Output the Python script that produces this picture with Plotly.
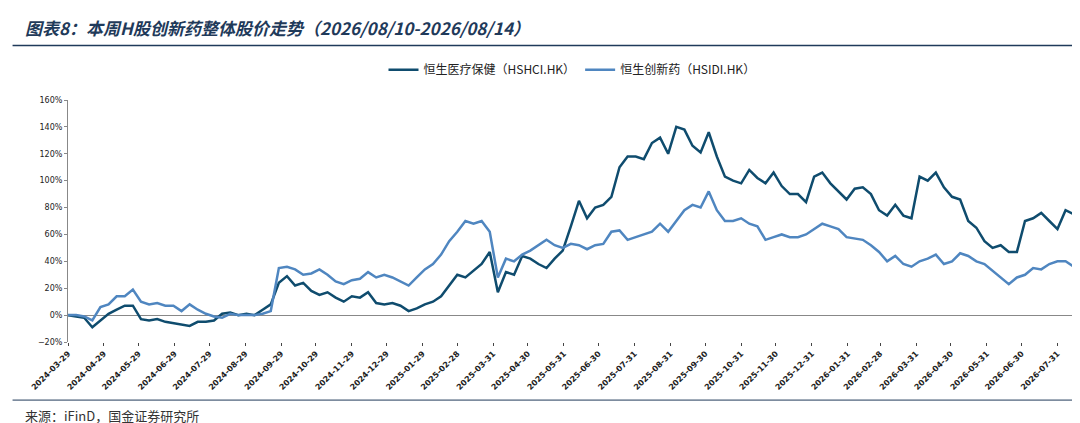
import plotly.graph_objects as go
import pandas as pd

dates = pd.date_range("2024-03-29", "2026-08-14", freq="W-FRI")

hshci = [0,
         -1, -2, -9, -4,
         1, 4, 7, 7, -3,
         -4, -3, -5, -6,
         -7, -8, -5, -5,
         -4, 1, 2, 0, 1,
         0, 4, 8, 24,
         29, 22, 24, 18,
         15, 17, 13, 10, 14,
         13, 17, 9, 8,
         9, 7, 3, 5, 8,
         10, 14, 22, 30,
         28, 33, 38, 47,
         17, 32, 30, 44,
         42, 38, 35, 42, 48,
         66, 85, 72, 80,
         82, 88, 110, 118,
         118, 116, 128, 132, 120,
         140, 138, 126, 121,
         136, 118, 103, 100, 98,
         108, 102, 98, 106,
         96, 90, 90, 84,
         103, 106, 98, 92, 86,
         94, 95, 90, 78,
         74, 82, 74, 72,
         103, 100, 106, 95,
         88, 86, 70, 65, 55,
         50, 52, 47, 47,
         70, 72, 76, 70, 64,
         78, 75]

hsidi = [0,
         0, -1, -4, 6,
         8, 14, 14, 19, 10,
         8, 9, 7, 7,
         3, 8, 4, 1,
         -1, -2, 1, 0, 0,
         0, 1, 3, 35,
         36, 34, 30, 31,
         34, 30, 25, 23, 26,
         27, 32, 28, 30,
         28, 25, 22, 28, 34,
         38, 45, 55, 62,
         70, 68, 70, 62,
         28, 42, 40, 45,
         48, 52, 56, 52, 50,
         53, 52, 49, 52,
         53, 62, 63, 56,
         58, 60, 62, 68, 62,
         70, 78, 82, 80,
         92, 78, 70, 70, 72,
         68, 66, 56, 58,
         60, 58, 58, 60,
         64, 68, 66, 64, 58,
         57, 56, 52, 47,
         40, 44, 38, 36,
         40, 42, 45, 38,
         40, 46, 44, 40, 38,
         33, 28, 23, 28,
         30, 35, 34, 38, 40,
         40, 36]

tick_dates = ["2024-03-29", "2024-04-29", "2024-05-29", "2024-06-29", "2024-07-29",
              "2024-08-29", "2024-09-29", "2024-10-29", "2024-11-29", "2024-12-29",
              "2025-01-29", "2025-02-28", "2025-03-31", "2025-04-30", "2025-05-31",
              "2025-06-30", "2025-07-31", "2025-08-31", "2025-09-30", "2025-10-31",
              "2025-11-30", "2025-12-31", "2026-01-31", "2026-02-28", "2026-03-31",
              "2026-04-30", "2026-05-31", "2026-06-30", "2026-07-31"]

fig = go.Figure()
fig.add_trace(go.Scatter(x=dates, y=[v / 100 for v in hshci], mode="lines",
                         name="恒生医疗保健（HSHCI.HK）",
                         line=dict(color="#0f4c6e", width=2.5)))
fig.add_trace(go.Scatter(x=dates, y=[v / 100 for v in hsidi], mode="lines",
                         name="恒生创新药（HSIDI.HK）",
                         line=dict(color="#4f86c0", width=2.5)))

fig.update_xaxes(tickvals=tick_dates, ticktext=["<b>%s</b>" % t for t in tick_dates], tickangle=-45,
                 range=["2024-03-29", "2026-08-16"],
                 tickfont=dict(size=8, color="#222", family="DejaVu Sans"),
                 showgrid=False, showline=False, ticks="outside", ticklen=3,
                 zeroline=False)
fig.update_yaxes(range=[-0.2, 1.6], dtick=0.2, tickformat=".0%",
                 tickfont=dict(size=8, color="#222", family="DejaVu Sans"),
                 showgrid=False, showline=True, linecolor="#888", linewidth=1,
                 ticks="outside", ticklen=3, tickcolor="#888",
                 zeroline=True, zerolinecolor="#888", zerolinewidth=1)

fig.add_shape(type="line", xref="paper", yref="paper", x0=-0.055, x1=1.01,
              y0=1.225, y1=1.225, line=dict(color="#1f3a5a", width=1.5))
fig.add_shape(type="line", xref="paper", yref="paper", x0=-0.055, x1=1.01,
              y0=-0.24, y1=-0.24, line=dict(color="#1f3a5a", width=1))
fig.add_annotation(text="<b><i>图表8：本周H股创新药整体股价走势（2026/08/10-2026/08/14）</i></b>",
                   xref="paper", yref="paper", x=-0.045, y=1.30, xanchor="left", yanchor="middle",
                   showarrow=False, font=dict(size=17, color="#1f3a5a", family="Noto Sans CJK SC"))
fig.add_annotation(text="来源：iFinD，国金证券研究所", xref="paper", yref="paper",
                   x=-0.045, y=-0.305, xanchor="left", yanchor="middle", showarrow=False,
                   font=dict(size=13, color="#333", family="Noto Sans CJK SC"))

fig.update_layout(width=1080, height=423, plot_bgcolor="white", paper_bgcolor="white",
                  margin=dict(l=60, r=12, t=92, b=89),
                  legend=dict(orientation="h", x=0.5, xanchor="center", y=1.125, yanchor="middle",
                              font=dict(size=12, color="#222", family="Noto Sans CJK SC")),
                  showlegend=True)

fig.write_html("out.html")
